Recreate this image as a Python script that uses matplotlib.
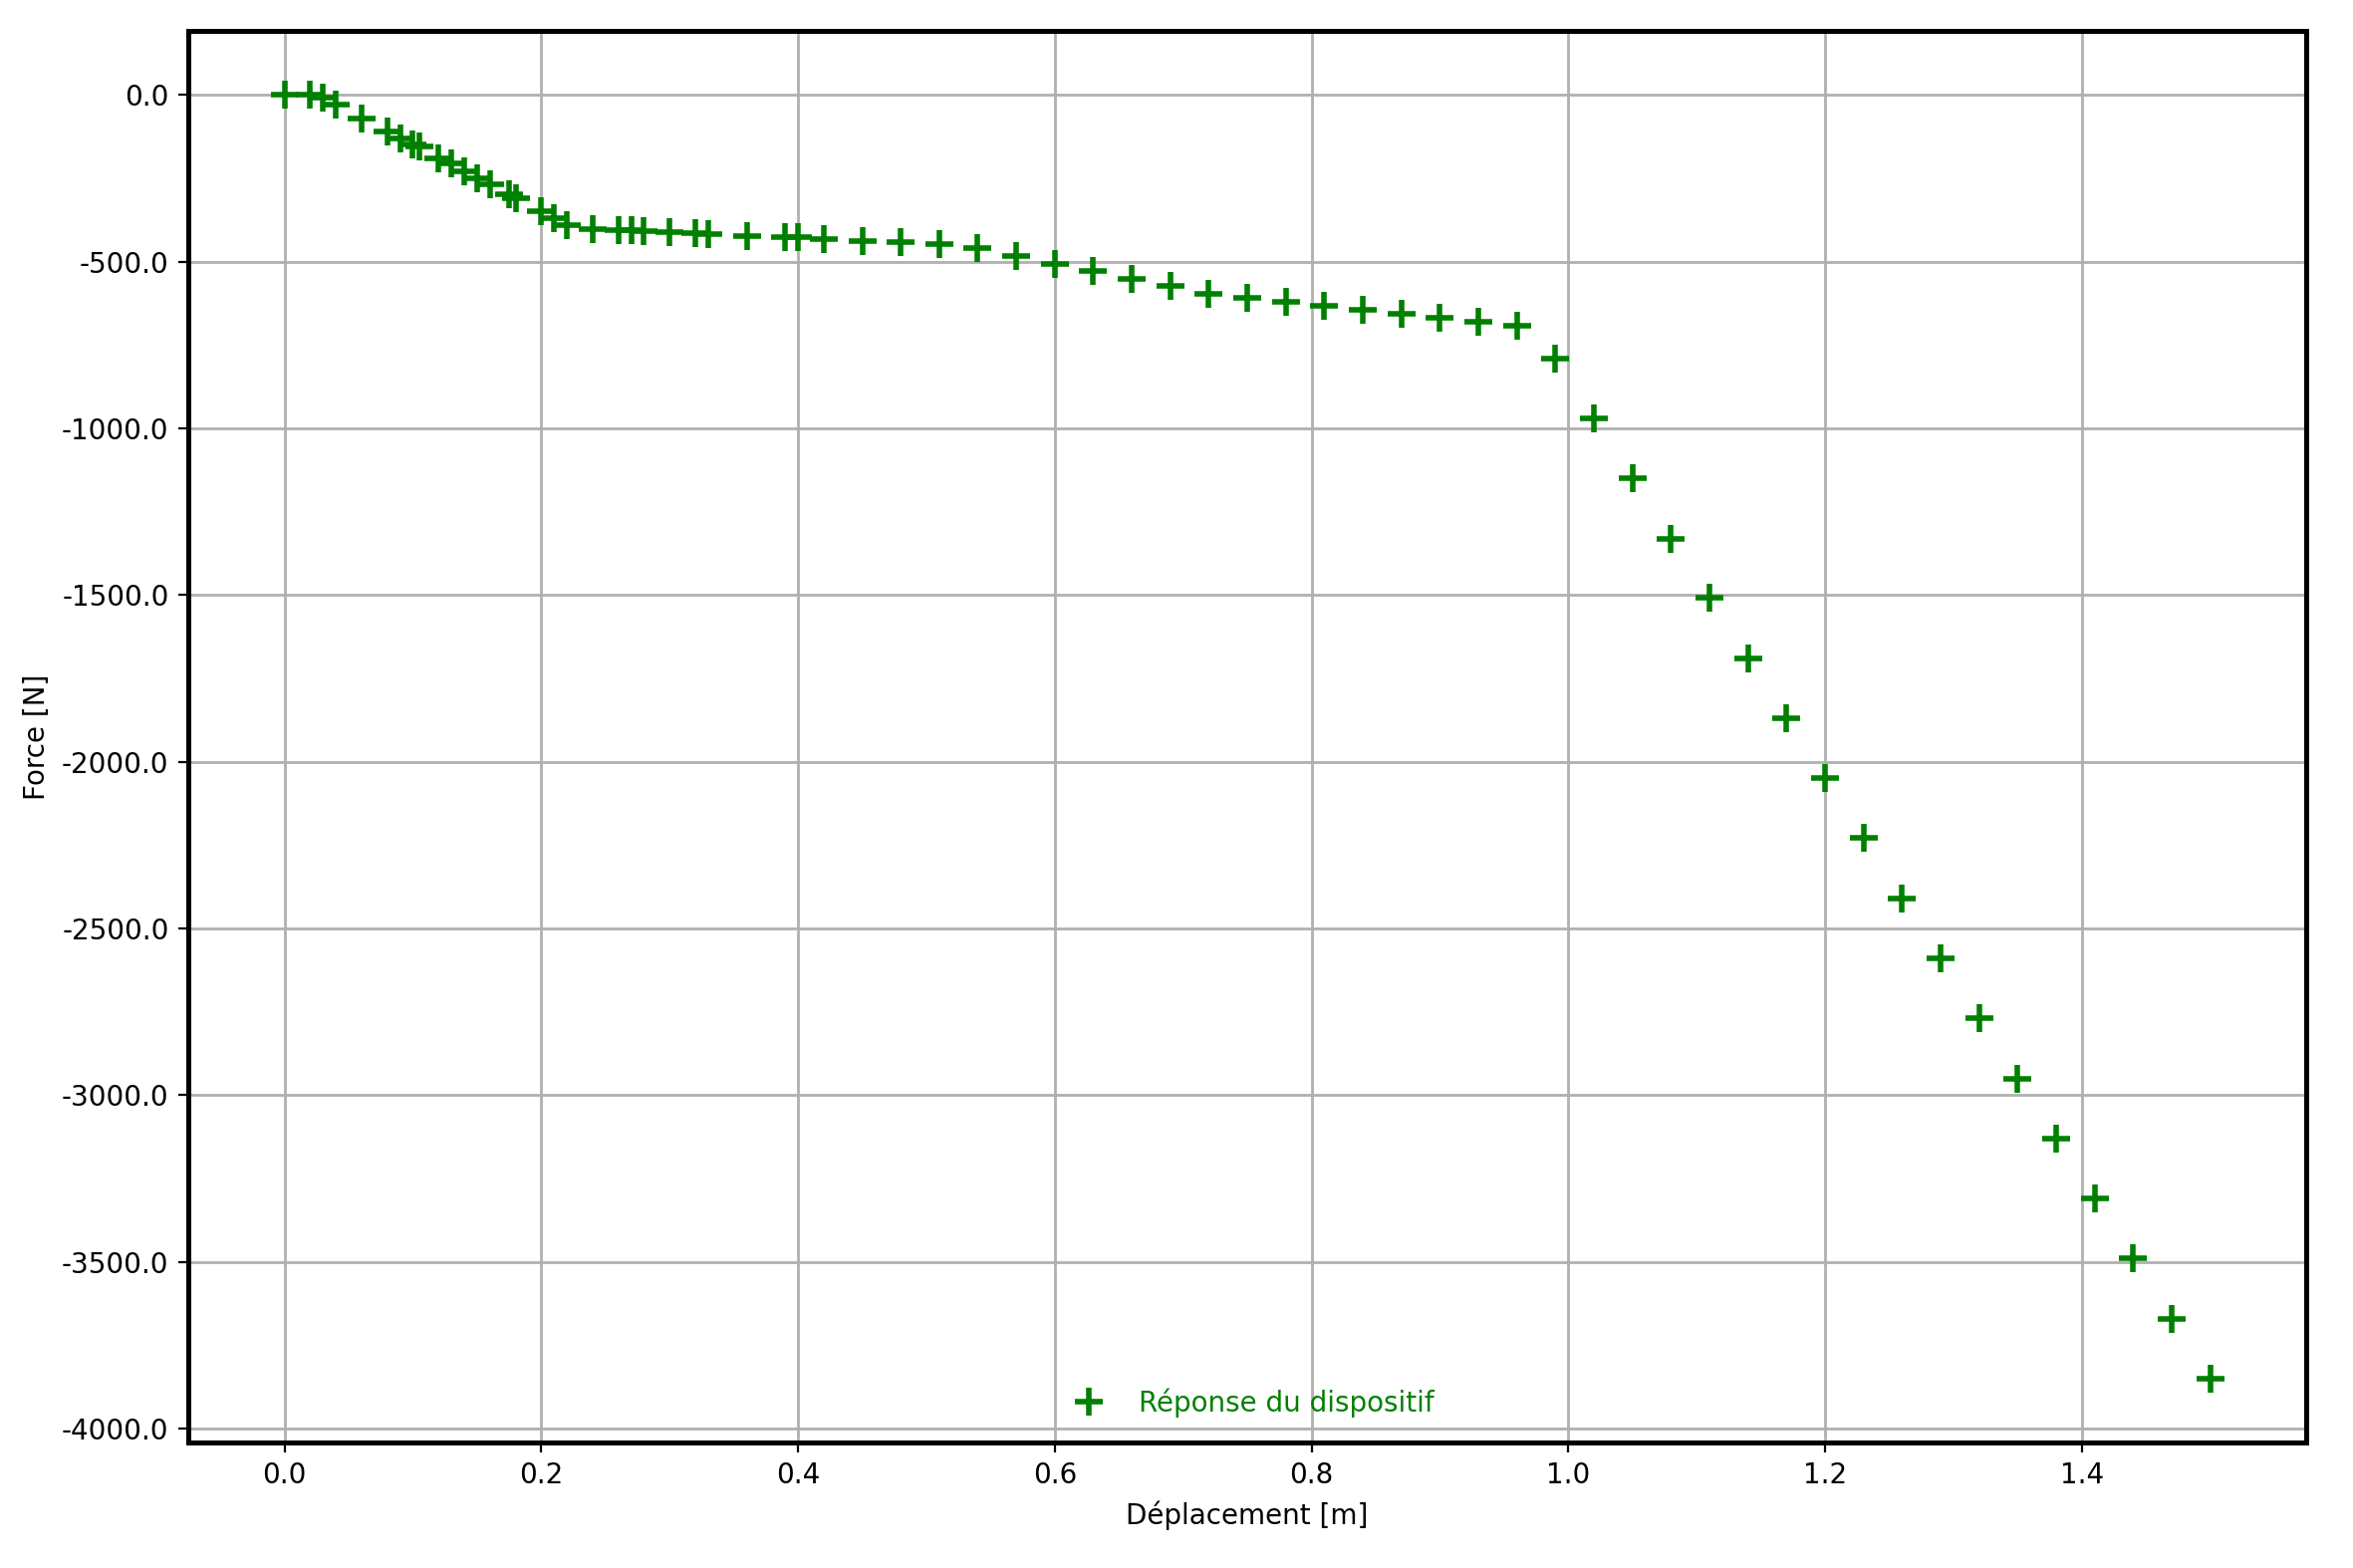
import matplotlib
matplotlib.use("Agg")
import matplotlib.pyplot as plt
from matplotlib.ticker import FormatStrFormatter

# Data
deplacement = [0.0, 0.02, 0.03, 0.04, 0.06, 0.08, 0.09, 0.10, 0.105, 0.12,
               0.13, 0.14, 0.15, 0.16, 0.175, 0.18, 0.20, 0.21, 0.22, 0.24,
               0.26, 0.27, 0.28, 0.30, 0.32, 0.33, 0.36, 0.39, 0.40, 0.42,
               0.45, 0.48, 0.51, 0.54, 0.57, 0.60, 0.63, 0.66, 0.69, 0.72,
               0.75, 0.78, 0.81, 0.84, 0.87, 0.90, 0.93, 0.96, 0.99, 1.02,
               1.05, 1.08, 1.11, 1.14, 1.17, 1.20, 1.23, 1.26, 1.29, 1.32,
               1.35, 1.38, 1.41, 1.44, 1.47, 1.50]
force = [0, 0, -7, -28, -69, -108, -129, -148, -155, -189,
         -204, -228, -249, -267, -299, -309, -348, -370, -390, -402,
         -406, -406, -409, -411, -414, -416, -423, -425, -426, -432,
         -438, -441, -447, -459, -483, -507, -528, -551, -572, -596,
         -608, -620, -632, -644, -656, -668, -680, -692, -791, -970,
         -1150, -1330, -1509, -1690, -1870, -2050, -2229, -2410, -2590, -2770,
         -2950, -3130, -3310, -3490, -3670, -3849]

xticks = [0.0, 0.2, 0.4, 0.6, 0.8, 1.0, 1.2, 1.4]
yticks = [0, -500, -1000, -1500, -2000, -2500, -3000, -3500, -4000]
label_serie = "Réponse du dispositif"
xlabel = "Déplacement [m]"
ylabel = "Force [N]"

fig = plt.figure(figsize=(11.81, 7.87), dpi=200)
ax = fig.add_axes([0.0800, 0.0801, 0.9002, 0.9002])

ax.plot(deplacement, force, linestyle="none", marker="+", color="green",
        markersize=10, markeredgewidth=2.0, label=label_serie, zorder=3)

ax.set_xticks(xticks)
ax.set_yticks(yticks)
ax.yaxis.set_major_formatter(FormatStrFormatter("%.1f"))
ax.xaxis.set_major_formatter(FormatStrFormatter("%.1f"))
ax.tick_params(labelsize=10)
ax.grid(True, color="#b0b0b0", linewidth=1.0)
ax.set_axisbelow(True)

for sp in ax.spines.values():
    sp.set_linewidth(1.8)

ax.set_xlabel(xlabel, fontsize=10)
ax.set_ylabel(ylabel, fontsize=10)

ax.legend(loc="lower center", frameon=False, labelcolor="green", fontsize=10)

fig.savefig("out.png", dpi=200)
